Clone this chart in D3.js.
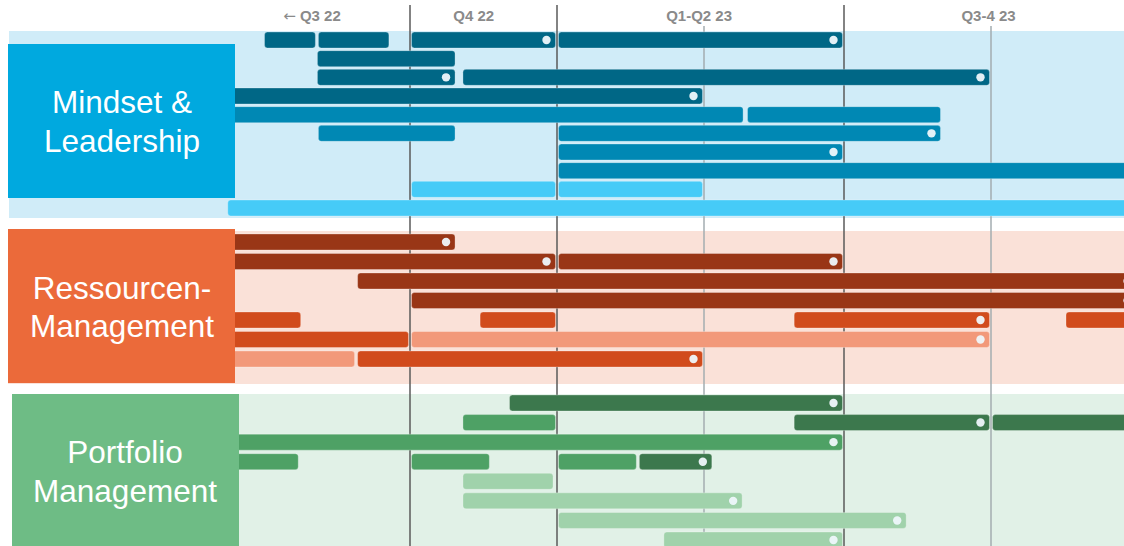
<!DOCTYPE html>
<html><head><meta charset="utf-8">
<script src="https://cdn.jsdelivr.net/npm/d3@7"></script>
<style>html,body{margin:0;padding:0;background:#fff;overflow:hidden}</style>
</head><body><svg id="chart" width="1124" height="546"></svg>
<script>
// ---------- DATA (time in months since start of Q3 2022) ----------
const periodLabels = ["← Q3 22", "Q4 22", "Q1-Q2 23", "Q3-4 23"];
const periodLabelAt = [1.0, 4.3, 8.9, 14.95];
const majorLines = [3, 6, 12];
const minorLines = [9, 15];
const groupNames = [["Mindset &", "Leadership"], ["Ressourcen-", "Management"], ["Portfolio", "Management"]];

// [row, start, end, tone(0 dark,1 mid,2 light), milestone]
const mindsetTasks = [
  [0, 0, 1.1, 0, 0], [0, 1.1, 2.6, 0, 0], [0, 3, 6, 0, 1], [0, 6, 12, 0, 1],
  [1, 1.08, 3.95, 0, 0],
  [2, 1.08, 3.95, 0, 1], [2, 4.05, 15, 0, 1],
  [3, -1, 9, 0, 1],
  [4, -1, 9.87, 1, 0], [4, 9.9, 14, 1, 0],
  [5, 1.1, 3.95, 1, 0], [5, 6, 14, 1, 1],
  [6, 6, 12, 1, 1],
  [7, 6, 19, 1, 0],
  [8, 3, 6, 2, 0], [8, 6, 9, 2, 0],
  [9, -0.75, 19, 2, 0]
];
const ressourcenTasks = [
  [0, -1, 3.95, 0, 1],
  [1, -1, 6, 0, 1], [1, 6, 12, 0, 1],
  [2, 1.9, 18, 0, 1],
  [3, 3, 18, 0, 1],
  [4, -1, 0.8, 1, 0], [4, 4.4, 6, 1, 0], [4, 10.9, 15, 1, 1], [4, 16.5, 19, 1, 0],
  [5, -1, 3, 1, 0], [5, 3, 15, 2, 1],
  [6, -1, 1.9, 2, 0], [6, 1.9, 9, 1, 1]
];
const portfolioTasks = [
  [0, 5, 12, 0, 1],
  [1, 4.05, 6, 1, 0], [1, 10.9, 15, 0, 1], [1, 15, 19, 0, 0],
  [2, -1, 12, 1, 1],
  [3, -1, 0.75, 1, 0], [3, 3, 4.65, 1, 0], [3, 6, 7.65, 1, 0], [3, 7.65, 9.2, 0, 1],
  [4, 4.05, 5.95, 2, 0],
  [5, 4.05, 9.85, 2, 1],
  [6, 6, 13.3, 2, 1],
  [7, 8.15, 12, 2, 1]
];
const groupTasks = [mindsetTasks, ressourcenTasks, portfolioTasks];

// ---------- LAYOUT / STYLE ----------
const W = 1124, H = 546;
const x = d3.scaleLinear().domain([0, 3, 6, 9, 12, 15, 18]).range([263, 410, 557, 704, 844, 991, 1138]);
const layout = [
  { band: [9, 31, 218], box: [8, 44, 235, 198], rows: [40, 208], textY: [113, 152], tx: 122,
    colors: ["#006786", "#0088b4", "#46cbf7"], boxFill: "#00a9df", bandFill: "#d0ecf8" },
  { band: [8, 231, 384], box: [8, 229, 235, 383], rows: [242, 359], textY: [299, 337], tx: 122,
    colors: ["#993616", "#d14b1c", "#f2997a"], boxFill: "#eb6a3a", bandFill: "#fae1d8" },
  { band: [12, 394, 546], box: [12, 394, 239, 546], rows: [403, 540], textY: [463, 502], tx: 125,
    colors: ["#3c784d", "#4ea165", "#a0d2ab"], boxFill: "#6ebc85", bandFill: "#e1f1e7" }
];
const barH = 16, inset = 1.5;

const svg = d3.select("#chart");
const font = "'Liberation Sans', Arial, Helvetica, sans-serif";

// bands
svg.selectAll("rect.band").data(layout).join("rect")
  .attr("class", "band")
  .attr("x", d => d.band[0]).attr("y", d => d.band[1])
  .attr("width", d => W - d.band[0]).attr("height", d => d.band[2] - d.band[1])
  .attr("fill", d => d.bandFill);

// grid lines
svg.selectAll("line.minor").data(minorLines).join("line")
  .attr("class", "minor")
  .attr("x1", d => x(d)).attr("x2", d => x(d))
  .attr("y1", 26).attr("y2", H)
  .attr("stroke", "#a3acb0").attr("stroke-width", 1.5);
svg.selectAll("line.major").data(majorLines).join("line")
  .attr("class", "major")
  .attr("x1", d => x(d)).attr("x2", d => x(d))
  .attr("y1", 5).attr("y2", H)
  .attr("stroke", "#5a5a5a").attr("stroke-width", 1.5);

// bars
groupTasks.forEach((tasks, gi) => {
  const L = layout[gi];
  const nRows = d3.max(tasks, t => t[0]) + 1;
  const y = d3.scalePoint().domain(d3.range(nRows)).range(L.rows);
  const g = svg.append("g");
  g.selectAll("rect").data(tasks).join("rect")
    .attr("x", d => x(d[1]) + inset)
    .attr("y", d => y(d[0]) - barH / 2)
    .attr("width", d => x(d[2]) - x(d[1]) - 2 * inset)
    .attr("height", barH)
    .attr("rx", 3)
    .attr("fill", d => L.colors[d[3]])
    .attr("stroke", "rgba(255,255,255,0.35)").attr("stroke-width", 0.8);
  g.selectAll("circle").data(tasks.filter(d => d[4])).join("circle")
    .attr("cx", d => x(d[2]) - inset - 9)
    .attr("cy", d => y(d[0]))
    .attr("r", 4.2)
    .attr("fill", "#eef7fb").attr("opacity", 0.95);
});

// group label boxes
svg.selectAll("rect.box").data(layout).join("rect")
  .attr("class", "box")
  .attr("x", d => d.box[0]).attr("y", d => d.box[1])
  .attr("width", d => d.box[2] - d.box[0]).attr("height", d => d.box[3] - d.box[1])
  .attr("fill", d => d.boxFill);

layout.forEach((L, gi) => {
  svg.append("g").selectAll("text").data(groupNames[gi]).join("text")
    .attr("x", L.tx).attr("y", (d, i) => L.textY[i])
    .attr("text-anchor", "middle")
    .attr("font-family", font).attr("font-size", 31.5)
    .attr("fill", "#ffffff")
    .text(d => d);
});

// period labels
const pl = svg.selectAll("text.period").data(periodLabels).join("text")
  .attr("class", "period")
  .attr("x", (d, i) => x(periodLabelAt[i]))
  .attr("y", 21)
  .attr("text-anchor", "middle")
  .attr("font-family", font).attr("font-size", 15).attr("font-weight", "bold")
  .attr("fill", "#8a8a8a");
pl.each(function (d) {
  const t = d3.select(this);
  if (d.startsWith("←")) {
    t.append("tspan").attr("font-family", "'DejaVu Sans', sans-serif").attr("font-weight", "normal").text("←");
    t.append("tspan").text(d.slice(1));
  } else {
    t.text(d);
  }
});
</script></body></html>
